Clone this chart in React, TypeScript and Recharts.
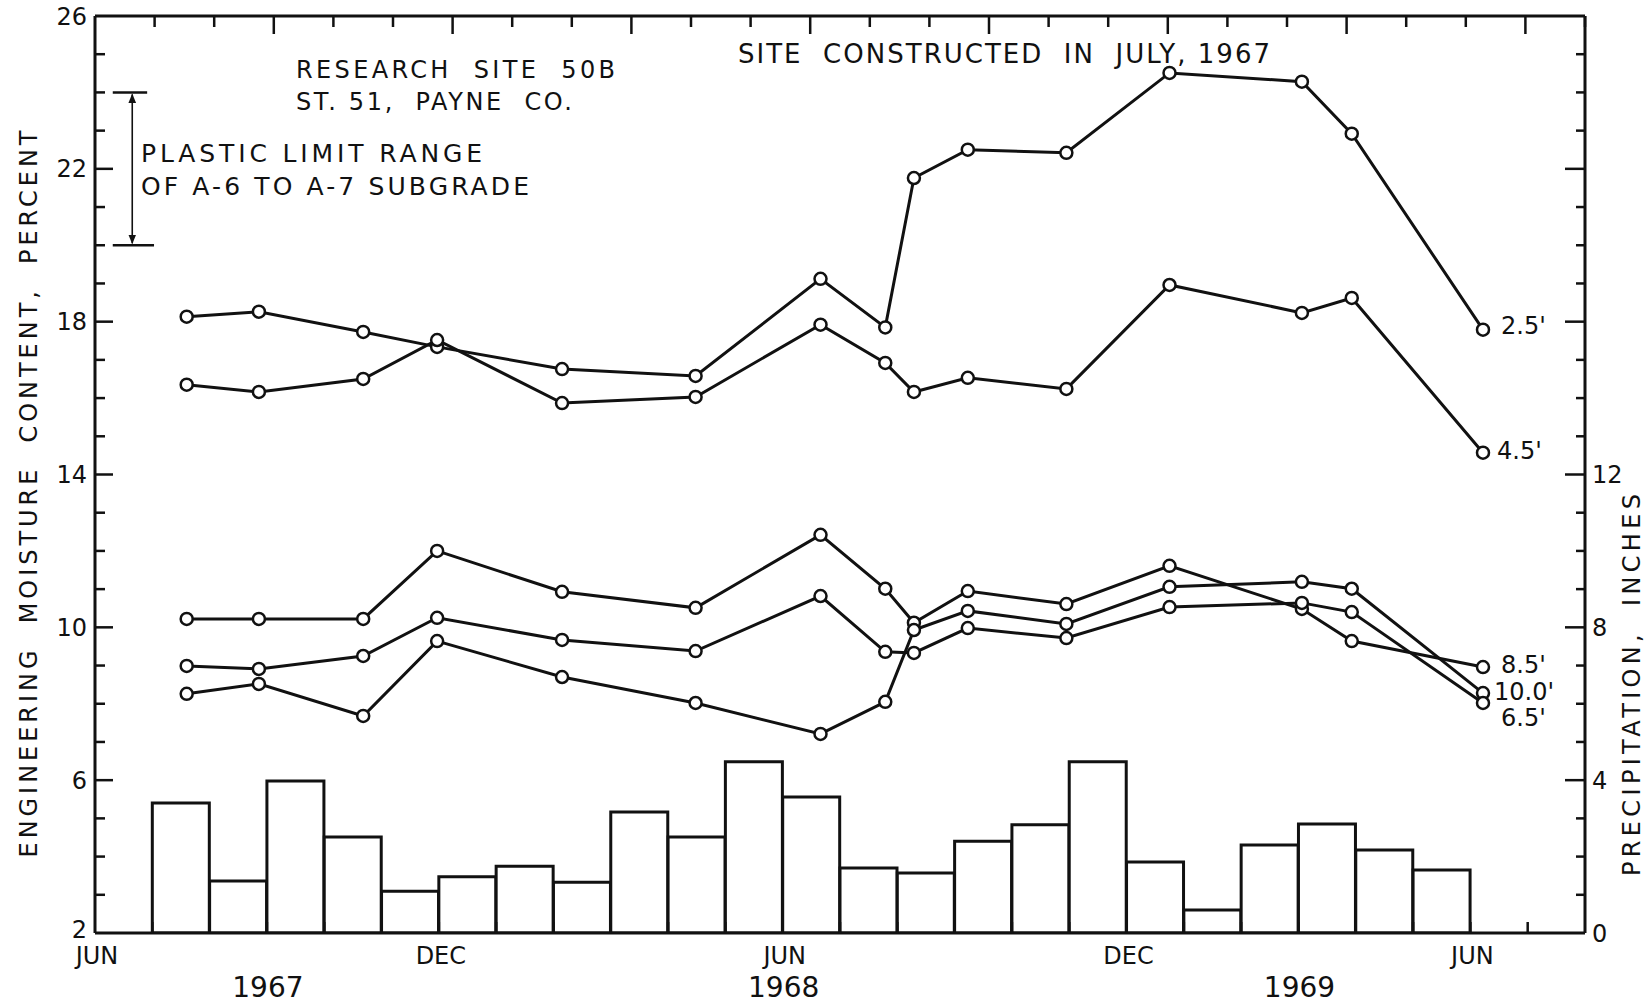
import React from 'react';
import { ComposedChart, Bar, Line, XAxis, YAxis, ReferenceLine } from 'recharts';

// ---------- DATA ----------
// monthly categories, Jun 1967 (index 0) .. Jul 1969 (index 25)
const monthCategories = [
  'JUN 1967', 'JUL 1967', 'AUG 1967', 'SEP 1967', 'OCT 1967', 'NOV 1967', 'DEC 1967',
  'JAN 1968', 'FEB 1968', 'MAR 1968', 'APR 1968', 'MAY 1968', 'JUN 1968', 'JUL 1968',
  'AUG 1968', 'SEP 1968', 'OCT 1968', 'NOV 1968', 'DEC 1968', 'JAN 1969', 'FEB 1969',
  'MAR 1969', 'APR 1969', 'MAY 1969', 'JUN 1969', 'JUL 1969',
];
// monthly precipitation, inches
const precipitation: (number | null)[] = [
  null, 3.40, 1.36, 3.98, 2.51, 1.09, 1.47, 1.75, 1.33, 3.17, 2.51, 4.48, 3.56,
  1.70, 1.57, 2.40, 2.83, 4.48, 1.86, 0.60, 2.30, 2.85, 2.17, 1.65, null, null,
];

// sampling dates, months after 1 June 1967
const sampleMonths = [1.60, 2.86, 4.68, 5.97, 8.15, 10.48, 12.66, 13.79, 14.29, 15.23, 16.95, 18.75, 21.06, 21.93, 24.22];
// engineering moisture content, percent, by depth
const depth25 = [18.13, 18.26, 17.73, 17.34, 16.76, 16.58, 19.12, 17.85, 21.76, 22.50, 22.42, 24.51, 24.28, 22.92, 17.79];
const depth45 = [16.35, 16.16, 16.50, 17.52, 15.87, 16.03, 17.92, 16.92, 16.16, 16.53, 16.24, 18.96, 18.23, 18.62, 14.57];
const depth85 = [10.22, 10.22, 10.22, 12.00, 10.93, 10.51, 12.42, 11.01, 10.12, 10.95, 10.61, 11.61, 10.48, 9.64, 8.96];
const depth100 = [8.26, 8.52, 7.68, 9.64, 8.70, 8.02, 7.21, 8.05, 9.93, 10.43, 10.09, 11.06, 11.19, 11.01, 8.28];
const depth65 = [8.99, 8.91, 9.25, 10.25, 9.67, 9.38, 10.82, 9.36, 9.33, 9.98, 9.72, 10.53, 10.64, 10.40, 8.02];

// plastic limit range of A-6 to A-7 subgrade, percent
const plasticLimitLow = 20;
const plasticLimitHigh = 24;

// ticks
const monthTicks = [0, 1, 2, 3, 4, 5, 6, 7, 8, 9, 10, 11, 12, 13, 14, 15, 16, 17, 18, 19, 20, 21, 22, 23, 24, 25, 26];
const moistureTicks = [2, 3, 4, 5, 6, 7, 8, 9, 10, 11, 12, 13, 14, 15, 16, 17, 18, 19, 20, 21, 22, 23, 24, 25, 26];
const moistureLabels = [2, 6, 10, 14, 18, 22, 26];
const precipTicks = [0, 1, 2, 3, 4, 5, 6, 7, 8, 9, 10, 11, 12, 13, 14, 15, 16, 17, 18, 19, 20, 21, 22, 23, 24];
const precipMajor = [0, 4, 8, 12, 16, 20, 24];
const precipLabels = [0, 4, 8, 12];
const monthLabelPositions = [0, 6, 12, 18, 24];
const monthLabelTexts = ['JUN', 'DEC', 'JUN', 'DEC', 'JUN'];
const yearLabelPositions = [3, 12, 21];
const yearLabelTexts = ['1967', '1968', '1969'];

// ---------- CHART ----------
const INK = '#111';
const FONT = '"DejaVu Sans", "Liberation Sans", sans-serif';

const barData = monthCategories.map((m, i) => ({ month: m, precip: precipitation[i] }));
const toSeries = (vals: number[]) => sampleMonths.map((t, i) => ({ t, v: vals[i] }));

const LeftTick = (props: any) => {
  const { x, y, payload } = props;
  const v = payload.value;
  const major = moistureLabels.includes(v);
  const edge = v === 2 || v === 26;
  return (
    <g>
      {!edge && <line x1={x} y1={y} x2={x + (major ? 18 : 10)} y2={y} stroke={INK} strokeWidth={2.5} />}
      {major && (
        <text x={x - 8} y={v === 2 ? y - 4 : y} dy="0.36em" textAnchor="end" fontFamily={FONT} fontSize={24} fill={INK}>
          {v}
        </text>
      )}
    </g>
  );
};

const RightTick = (props: any) => {
  const { x, y, payload } = props;
  const v = payload.value;
  const major = precipMajor.includes(v);
  const edge = v === 0 || v === 24;
  return (
    <g>
      {!edge && <line x1={x - (major ? 20 : 9)} y1={y} x2={x} y2={y} stroke={INK} strokeWidth={2.5} />}
      {precipLabels.includes(v) && (
        <text x={x + 7} y={y} dy="0.36em" textAnchor="start" fontFamily={FONT} fontSize={24} fill={INK}>
          {v}
        </text>
      )}
    </g>
  );
};

const BottomTick = (props: any) => {
  const { x, y, payload } = props;
  const v = payload.value;
  const mi = monthLabelPositions.indexOf(v);
  const yi = yearLabelPositions.indexOf(v);
  const edge = v === 0 || v === 26;
  return (
    <g>
      {!edge && <line x1={x} y1={y} x2={x} y2={y - 11} stroke={INK} strokeWidth={2.5} />}
      {mi >= 0 && (
        <text x={x + 2} y={y + 31} textAnchor="middle" fontFamily={FONT} fontSize={24} fill={INK}>
          {monthLabelTexts[mi]}
        </text>
      )}
      {yi >= 0 && (
        <text x={x + 1} y={y + 64} textAnchor="middle" fontFamily={FONT} fontSize={28} fill={INK}>
          {yearLabelTexts[yi]}
        </text>
      )}
    </g>
  );
};

const TopTick = (props: any) => {
  const { x, y, payload } = props;
  const v = payload.value;
  if (v === 0 || v === 26) return <g />;
  return <line x1={x} y1={y} x2={x} y2={y + (v % 3 === 0 ? 18 : 11)} stroke={INK} strokeWidth={2.5} />;
};

const endLabel = (text: string, vals: number[], dx: number, dy: number) => (props: any) => {
  const last = vals.length - 1;
  const { index, value } = props;
  const isLast = index !== undefined ? index === last : value === vals[last];
  if (!isLast) return null;
  const px = props.x ?? props.viewBox?.x;
  const py = props.y ?? props.viewBox?.y;
  return (
    <text x={px + dx} y={py + dy} dy="0.36em" textAnchor="start" fontFamily={FONT} fontSize={24} fill={INK}>
      {text}
    </text>
  );
};

const ArrowLine = (props: any) => {
  const { x1, y1, x2, y2 } = props;
  return (
    <g>
      <defs>
        <marker id="plArrow" viewBox="0 0 10 10" refX="9" refY="5" markerWidth="6" markerHeight="8" orient="auto-start-reverse">
          <path d="M0,1 L10,5 L0,9 z" fill={INK} />
        </marker>
      </defs>
      <line x1={x1} y1={y1 + 2} x2={x2} y2={y2 - 2} stroke={INK} strokeWidth={1.6} markerStart="url(#plArrow)" markerEnd="url(#plArrow)" />
    </g>
  );
};

const dotStyle = { r: 6, fill: '#fff', stroke: INK, strokeWidth: 2.5 };

const series = [
  { name: "2.5'", vals: depth25, dx: 18, dy: -4 },
  { name: "4.5'", vals: depth45, dx: 14, dy: -2 },
  { name: "8.5'", vals: depth85, dx: 18, dy: -3 },
  { name: "10.0'", vals: depth100, dx: 11, dy: -2 },
  { name: "6.5'", vals: depth65, dx: 18, dy: 14 },
];

const annotations = [
  { text: 'RESEARCH  SITE  50B', x: 296, y: 78, w: 319, fs: 24 },
  { text: 'ST. 51,  PAYNE  CO.', x: 296, y: 110, w: 276, fs: 24 },
  { text: 'PLASTIC LIMIT RANGE', x: 141, y: 162, w: 341, fs: 25 },
  { text: 'OF A-6 TO A-7 SUBGRADE', x: 141, y: 195, w: 388, fs: 25 },
  { text: 'SITE  CONSTRUCTED  IN  JULY, 1967', x: 738, y: 63, w: 532, fs: 26 },
];

export default function App() {
  return (
    <div style={{ position: 'absolute', left: 0, top: 0, width: 1650, height: 1003, background: '#fff' }}>
      <ComposedChart
        width={1650}
        height={1003}
        data={barData}
        margin={{ top: 15, right: 64, bottom: 69, left: 94 }}
        barCategoryGap={0}
        barGap={0}
      >
        <XAxis
          xAxisId="time"
          dataKey="t"
          type="number"
          domain={[0, 26]}
          allowDataOverflow
          ticks={monthTicks}
          interval={0}
          height={1}
          tickSize={0}
          tickMargin={0}
          tickLine={false}
          tick={<BottomTick />}
          axisLine={{ stroke: INK, strokeWidth: 3 }}
        />
        <XAxis xAxisId="cat" dataKey="month" type="category" hide height={0} />
        <XAxis
          xAxisId="top"
          orientation="top"
          type="number"
          domain={[0, 26]}
          allowDataOverflow
          ticks={monthTicks}
          interval={0}
          height={1}
          tickSize={0}
          tickMargin={0}
          tickLine={false}
          tick={<TopTick />}
          axisLine={{ stroke: INK, strokeWidth: 3 }}
        />
        <YAxis
          yAxisId="moist"
          orientation="left"
          type="number"
          domain={[2, 26]}
          allowDataOverflow
          ticks={moistureTicks}
          interval={0}
          width={1}
          tickSize={0}
          tickMargin={0}
          tickLine={false}
          tick={<LeftTick />}
          axisLine={{ stroke: INK, strokeWidth: 3 }}
        />
        <YAxis
          yAxisId="precip"
          orientation="right"
          type="number"
          domain={[0, 24]}
          allowDataOverflow
          ticks={precipTicks}
          interval={0}
          width={1}
          tickSize={0}
          tickMargin={0}
          tickLine={false}
          tick={<RightTick />}
          axisLine={{ stroke: INK, strokeWidth: 3 }}
        />
        <Bar
          xAxisId="cat"
          yAxisId="precip"
          dataKey="precip"
          fill="#fff"
          stroke={INK}
          strokeWidth={3}
          isAnimationActive={false}
        />
        <ReferenceLine
          xAxisId="time"
          yAxisId="moist"
          segment={[{ x: 0.31, y: plasticLimitHigh }, { x: 0.91, y: plasticLimitHigh }]}
          stroke={INK}
          strokeWidth={2.5}
        />
        <ReferenceLine
          xAxisId="time"
          yAxisId="moist"
          segment={[{ x: 0.31, y: plasticLimitLow }, { x: 1.03, y: plasticLimitLow }]}
          stroke={INK}
          strokeWidth={2.5}
        />
        <ReferenceLine
          xAxisId="time"
          yAxisId="moist"
          segment={[{ x: 0.65, y: plasticLimitHigh }, { x: 0.65, y: plasticLimitLow }]}
          shape={<ArrowLine />}
        />
        {series.map((s) => (
          <Line
            key={s.name}
            xAxisId="time"
            yAxisId="moist"
            data={toSeries(s.vals)}
            dataKey="v"
            type="linear"
            stroke={INK}
            strokeWidth={3}
            dot={dotStyle}
            activeDot={false}
            isAnimationActive={false}
            label={endLabel(s.name, s.vals, s.dx, s.dy)}
          />
        ))}
      </ComposedChart>
      <svg width={1650} height={1003} style={{ position: 'absolute', left: 0, top: 0, pointerEvents: 'none' }}>
        {annotations.map((a) => (
          <text
            key={a.text}
            x={a.x}
            y={a.y}
            fontFamily={FONT}
            fontSize={a.fs}
            fill={INK}
            textLength={a.w}
            lengthAdjust="spacing"
            style={{ whiteSpace: 'pre' }}
          >
            {a.text}
          </text>
        ))}
        <text
          transform="translate(37,494) rotate(-90)"
          textAnchor="middle"
          fontFamily={FONT}
          fontSize={24}
          fill={INK}
          textLength={727}
          lengthAdjust="spacing"
          style={{ whiteSpace: 'pre' }}
        >
          {'ENGINEERING  MOISTURE  CONTENT,  PERCENT'}
        </text>
        <text
          transform="translate(1640,685) rotate(-90)"
          textAnchor="middle"
          fontFamily={FONT}
          fontSize={24}
          fill={INK}
          textLength={382}
          lengthAdjust="spacing"
          style={{ whiteSpace: 'pre' }}
        >
          {'PRECIPITATION,  INCHES'}
        </text>
      </svg>
    </div>
  );
}
